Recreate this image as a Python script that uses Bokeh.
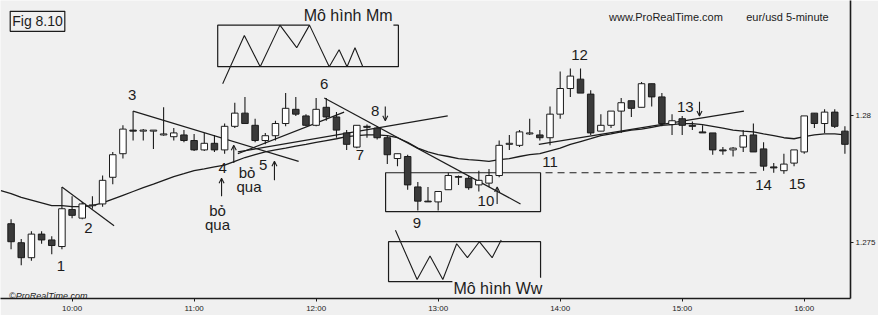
from bokeh.plotting import figure
from bokeh.models import ColumnDataSource, Range1d, FixedTicker, Label, Arrow, OpenHead
from bokeh.core.properties import value
from bokeh.embed import file_html
from bokeh.resources import INLINE

# ---------------- data (5-minute EUR/USD bars, 9:30 -> 16:20) ----------------
opens = [1.27575, 1.27500, 1.27441, 1.27534, 1.27511, 1.27485, 1.27631, 1.27597, 1.27646, 1.27653,
         1.27758, 1.27851, 1.27944, 1.27940, 1.27940, 1.27925, 1.27918, 1.27925, 1.27903, 1.27866,
         1.27892, 1.27866, 1.27959, 1.28011, 1.27963, 1.27903, 1.27922, 1.27970, 1.28026, 1.28000,
         1.27963, 1.28034, 1.27996, 1.27933, 1.27877, 1.27959, 1.27952, 1.27914, 1.27832, 1.27840,
         1.27720, 1.27664, 1.27661, 1.27709, 1.27758, 1.27754, 1.27728, 1.27735, 1.27765, 1.27888,
         1.27884, 1.27929, 1.27925, 1.27914, 1.28007, 1.28108, 1.28145, 1.28086, 1.27940, 1.27963,
         1.28019, 1.28060, 1.28034, 1.28127, 1.28075, 1.27966, 1.27989, 1.27963, 1.27937, 1.27933,
         1.27866, 1.27866, 1.27877, 1.27925, 1.27870, 1.27799, 1.27784, 1.27814, 1.27858, 1.28011,
         1.27970, 1.28015, 1.27940]
highs = [1.27593, 1.27515, 1.27545, 1.27545, 1.27526, 1.27720, 1.27683, 1.27661, 1.27683, 1.27765,
         1.27858, 1.27963, 1.28019, 1.27948, 1.27944, 1.28034, 1.27952, 1.27944, 1.27929, 1.27933,
         1.27925, 1.27970, 1.28052, 1.28075, 1.27989, 1.27933, 1.27981, 1.28090, 1.28075, 1.28007,
         1.28071, 1.28071, 1.28015, 1.27944, 1.27963, 1.27966, 1.27959, 1.27925, 1.27851, 1.27847,
         1.27739, 1.27720, 1.27702, 1.27776, 1.27765, 1.27765, 1.27784, 1.27791, 1.27903, 1.27925,
         1.27944, 1.27989, 1.27944, 1.28037, 1.28175, 1.28187, 1.28187, 1.28101, 1.28007, 1.28019,
         1.28071, 1.28060, 1.28134, 1.28127, 1.28090, 1.28007, 1.28000, 1.27978, 1.27963, 1.27933,
         1.27877, 1.27877, 1.27944, 1.27970, 1.27896, 1.27814, 1.27851, 1.27866, 1.28000, 1.28011,
         1.28026, 1.28026, 1.27959]
lows = [1.27474, 1.27411, 1.27429, 1.27496, 1.27455, 1.27474, 1.27597, 1.27593, 1.27634, 1.27642,
        1.27731, 1.27832, 1.27903, 1.27903, 1.27870, 1.27922, 1.27903, 1.27896, 1.27862, 1.27862,
        1.27858, 1.27851, 1.27952, 1.27970, 1.27896, 1.27888, 1.27903, 1.27959, 1.28000, 1.27959,
        1.27959, 1.27981, 1.27914, 1.27866, 1.27873, 1.27914, 1.27907, 1.27810, 1.27802, 1.27709,
        1.27627, 1.27661, 1.27627, 1.27709, 1.27728, 1.27709, 1.27702, 1.27720, 1.27758, 1.27866,
        1.27877, 1.27925, 1.27903, 1.27884, 1.27989, 1.28075, 1.28090, 1.27925, 1.27940, 1.27952,
        1.27933, 1.27996, 1.28034, 1.28037, 1.27959, 1.27925, 1.27925, 1.27944, 1.27933, 1.27847,
        1.27847, 1.27840, 1.27858, 1.27858, 1.27784, 1.27776, 1.27772, 1.27802, 1.27851, 1.27952,
        1.27933, 1.27952, 1.27851]
closes = [1.27504, 1.27441, 1.27534, 1.27511, 1.27489, 1.27634, 1.27608, 1.27653, 1.27649, 1.27746,
          1.27847, 1.27948, 1.27940, 1.27944, 1.27944, 1.27929, 1.27933, 1.27903, 1.27866, 1.27892,
          1.27866, 1.27959, 1.28011, 1.27970, 1.27903, 1.27922, 1.27970, 1.28030, 1.28007, 1.27963,
          1.28026, 1.27996, 1.27944, 1.27888, 1.27963, 1.27955, 1.27914, 1.27847, 1.27851, 1.27728,
          1.27664, 1.27661, 1.27702, 1.27765, 1.27761, 1.27717, 1.27746, 1.27765, 1.27884, 1.27892,
          1.27937, 1.27933, 1.27914, 1.28007, 1.28108, 1.28157, 1.28090, 1.27933, 1.27963, 1.28019,
          1.28052, 1.28030, 1.28127, 1.28075, 1.27970, 1.27981, 1.27963, 1.27959, 1.27933, 1.27866,
          1.27862, 1.27873, 1.27922, 1.27858, 1.27802, 1.27795, 1.27810, 1.27866, 1.28000, 1.27970,
          1.28015, 1.27959, 1.27888]
bars = list(range(len(opens)))

# moving average as drawn on the chart
ma_bars = list(range(-1, 83))
ma_values = [1.27705, 1.27694, 1.27679, 1.27668, 1.27657, 1.27646, 1.27646, 1.27642, 1.27642, 1.27646, 1.27657,
             1.27672, 1.27687, 1.27702, 1.27717, 1.27731, 1.27746, 1.27761, 1.27772, 1.27784, 1.27791,
             1.27799, 1.27806, 1.27821, 1.27836, 1.27847, 1.27858, 1.27866, 1.27873, 1.27881, 1.27888,
             1.27896, 1.27903, 1.27910, 1.27918, 1.27922, 1.27925, 1.27925, 1.27922, 1.27914, 1.27896,
             1.27873, 1.27858, 1.27847, 1.27840, 1.27832, 1.27828, 1.27825, 1.27821, 1.27828, 1.27832,
             1.27840, 1.27847, 1.27851, 1.27862, 1.27873, 1.27888, 1.27899, 1.27910, 1.27922, 1.27929,
             1.27937, 1.27944, 1.27948, 1.27955, 1.27963, 1.27966, 1.27970, 1.27970, 1.27966, 1.27959,
             1.27952, 1.27944, 1.27940, 1.27937, 1.27929, 1.27922, 1.27914, 1.27910, 1.27918, 1.27925,
             1.27929, 1.27929, 1.27925]

time_ticks = [6, 18, 30, 42, 54, 66, 78]
time_labels = ["10:00", "11:00", "12:00", "13:00", "14:00", "15:00", "16:00"]
price_ticks = [1.275, 1.28]
price_labels = ["1.275", "1.28"]

# trend lines (bar, price)
trend_x = [[5.0, 10.13], [12.0, 28.28], [30.8, 50.1], [22.3, 32.75], [22.3, 42.94], [51.9, 72.07]]
trend_y = [[1.27720, 1.27567], [1.28019, 1.27821], [1.28071, 1.27653], [1.27851, 1.28015],
           [1.27858, 1.28000], [1.27888, 1.28019]]
dash_x = [52.56, 73.43]
dash_y = [1.27776, 1.27776]

# numbered points
label_text = ["1", "2", "3", "4", "5", "6", "7", "8", "9", "10", "11", "12", "13", "14", "15"]
label_bar = [4.9, 7.6, 11.9, 20.8, 24.8, 30.8, 34.3, 35.8, 39.9, 46.7, 53.0, 55.9, 66.3, 74.0, 77.3]
label_price = [1.27407, 1.27560, 1.28082, 1.27795, 1.27806, 1.28127, 1.27847, 1.28019, 1.27579,
               1.27664, 1.27817, 1.28239, 1.28037, 1.27728, 1.27731]
note_text = ["bỏ", "qua", "bỏ", "qua"]
note_bar = [20.3, 20.3, 23.2, 23.4]
note_price = [1.27627, 1.27571, 1.27776, 1.27720]
arrow_bar = [20.7, 21.9, 25.9, 36.8, 47.8, 67.7]
arrow_from = [1.27683, 1.27814, 1.27746, 1.28037, 1.27653, 1.28056]
arrow_to = [1.27754, 1.27884, 1.27821, 1.27981, 1.27720, 1.28000]

# inset sketches
mm_box_x = [29.35, 20.32, 20.32, 38.09, 38.09, 37.6]
mm_box_y = [1.28358, 1.28358, 1.28194, 1.28194, 1.28358, 1.28358]
mm_path_x = [20.81, 22.94, 24.50, 26.44, 28.09, 29.35, 31.29, 32.26, 33.04, 33.82, 34.59]
mm_path_y = [1.28127, 1.28317, 1.28194, 1.28358, 1.28269, 1.28358, 1.28194, 1.28261, 1.28194, 1.28269, 1.28194]
ww_box_x = [52.07, 52.07, 37.12, 37.12, 43.4]
ww_box_y = [1.27362, 1.27504, 1.27504, 1.27347, 1.27347]
ww_path_x = [37.80, 39.93, 41.2, 42.46, 43.82, 44.88, 46.05, 47.31, 48.2]
ww_path_y = [1.27549, 1.27355, 1.27448, 1.27355, 1.27496, 1.27441, 1.27504, 1.27441, 1.27511]
zone_box = dict(left=36.83, right=52.07, top=1.27776, bottom=1.27623)

INK = "#1c1c1c"
BG = "#f0f0f0"
FONT = "Liberation Sans"

p = figure(width=878, height=315, x_range=Range1d(-1.04, 82.55), y_range=Range1d(1.272801, 1.284551),
           output_backend="svg", toolbar_location=None, y_axis_location="right", min_border=0)
p.background_fill_color = BG
p.border_fill_color = BG
p.outline_line_color = None
p.grid.visible = False

p.xaxis.ticker = FixedTicker(ticks=time_ticks)
p.xaxis.major_label_overrides = {t: l for t, l in zip(time_ticks, time_labels)}
p.yaxis.ticker = FixedTicker(ticks=price_ticks)
p.yaxis.major_label_overrides = {t: l for t, l in zip(price_ticks, price_labels)}
for ax in (p.xaxis[0], p.yaxis[0]):
    ax.minor_tick_line_color = None
    ax.major_tick_in = 0
    ax.major_tick_out = 3
    ax.axis_line_width = 1.6
    ax.axis_line_color = INK
    ax.major_tick_line_color = INK
    ax.major_label_text_font = FONT
    ax.major_label_text_font_size = "8px"
    ax.major_label_text_color = INK
    ax.major_label_standoff = 2

# zone box (9-10)
p.quad(left=[zone_box["left"]], right=[zone_box["right"]], top=[zone_box["top"]], bottom=[zone_box["bottom"]],
       fill_color=None, line_color=INK, line_width=1.2)
p.line(dash_x, dash_y, line_color=INK, line_width=1.2, line_dash="7 5")

# moving average
p.line(ma_bars, ma_values, line_color=INK, line_width=1.3)

# trend lines
p.multi_line(trend_x, trend_y, line_color=INK, line_width=1.2)

# candles
tops = [max(o, c) for o, c in zip(opens, closes)]
bots = [min(o, c) for o, c in zip(opens, closes)]
cols = ["#ffffff" if c >= o else "#3a3a3a" for o, c in zip(opens, closes)]
src = ColumnDataSource(dict(bar=bars, high=highs, low=lows, top=tops, bottom=bots, color=cols))
p.segment(x0="bar", y0="high", x1="bar", y1="low", source=src, line_color=INK, line_width=1.1)
p.vbar(x="bar", width=0.64, top="top", bottom="bottom", fill_color="color", line_color=INK,
       line_width=1, source=src)

# inset sketches
p.line(mm_box_x, mm_box_y, line_color=INK, line_width=1.2)
p.line(mm_path_x, mm_path_y, line_color=INK, line_width=1.1)
p.line(ww_box_x, ww_box_y, line_color=INK, line_width=1.2)
p.line(ww_path_x, ww_path_y, line_color=INK, line_width=1.1)

# labels
p.text(x=label_bar, y=label_price, text=label_text, text_font=value(FONT), text_font_size=value("15px"),
       text_align="center", text_baseline="middle", text_color=INK)
p.text(x=note_bar, y=note_price, text=note_text, text_font=value(FONT), text_font_size=value("15px"),
       text_align="center", text_baseline="middle", text_color=INK)
for b, f, t in zip(arrow_bar, arrow_from, arrow_to):
    p.add_layout(Arrow(end=OpenHead(size=5, line_width=1.1, line_color=INK), x_start=b, y_start=f,
                       x_end=b, y_end=t, line_width=1.1, line_color=INK))

p.add_layout(Label(x=28.77, y=1.28395, text="Mô hình Mm", text_font=FONT, text_font_size="16px",
                   text_align="left", text_baseline="middle", text_color=INK))
p.add_layout(Label(x=43.5, y=1.27321, text="Mô hình Ww", text_font=FONT, text_font_size="16px",
                   text_align="left", text_baseline="middle", text_color=INK))
p.add_layout(Label(x=2.6, y=1.28373, text="Fig 8.10", text_font=FONT, text_font_size="14px",
                   text_align="center", text_baseline="middle", text_color=INK,
                   border_line_color=INK, border_line_width=1.2, padding=2))
p.add_layout(Label(x=64.4, y=1.28392, text="www.ProRealTime.com", text_font=FONT, text_font_size="11px",
                   text_align="center", text_baseline="middle", text_color=INK))
p.add_layout(Label(x=76.5, y=1.28392, text="eur/usd  5-minute", text_font=FONT, text_font_size="11px",
                   text_align="center", text_baseline="middle", text_color=INK))
p.add_layout(Label(x=-0.2, y=1.27291, text="©ProRealTime.com", text_font=FONT, text_font_size="9px",
                   text_font_style="italic", text_align="left", text_baseline="middle", text_color=INK))

open("out.html", "w").write(file_html(p, INLINE))
